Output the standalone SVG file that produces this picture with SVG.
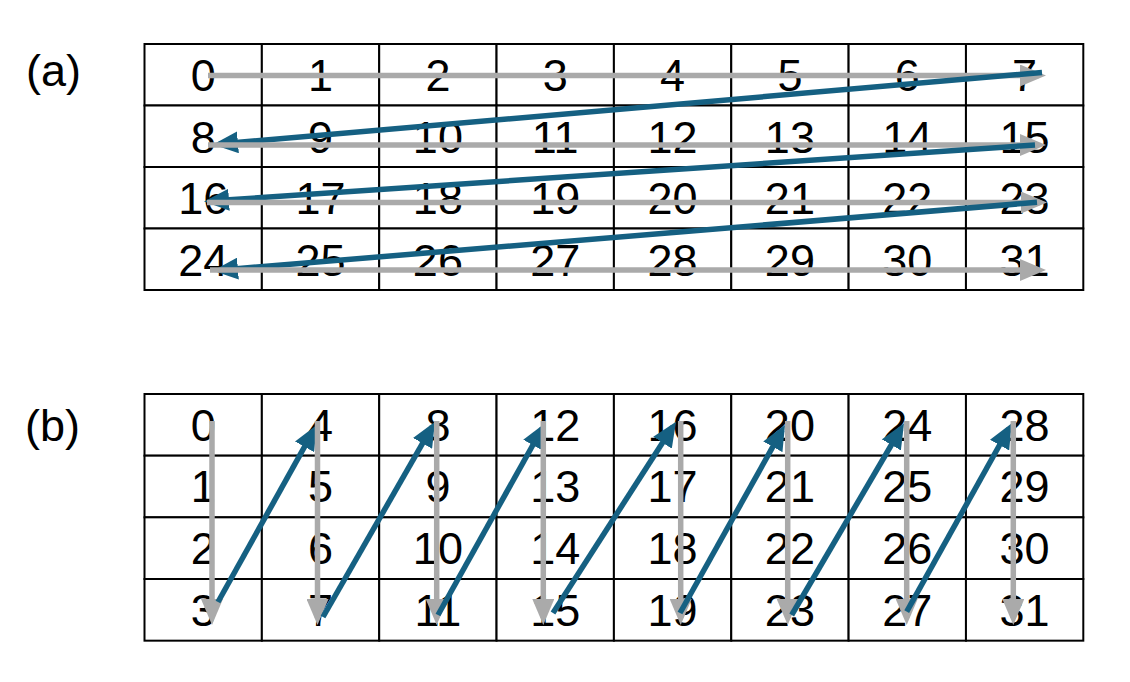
<svg xmlns="http://www.w3.org/2000/svg" width="1130" height="682" viewBox="0 0 1130 682">
<style>
.c rect{fill:#fff;stroke:#000;stroke-width:2}
.c text,.lbl{font-family:"Liberation Sans",Arial,sans-serif;font-size:45px;fill:#000}
.c text{text-anchor:middle}
.g{stroke:#AAAAAA;stroke-width:5.5;fill:none;marker-end:url(#ag)}
.b{stroke:#156082;stroke-width:5.5;fill:none;marker-end:url(#ab)}
</style>
<defs>
<marker id="ag" markerUnits="userSpaceOnUse" markerWidth="26" markerHeight="22" refX="19" refY="11" orient="auto"><path d="M0,0 L26,11 L0,22 Z" fill="#AAAAAA"/></marker>
<marker id="ab" markerUnits="userSpaceOnUse" markerWidth="25" markerHeight="22" refX="19" refY="11" orient="auto"><path d="M0,0 L25,11 L0,22 Z" fill="#156082"/></marker>
</defs>
<rect width="1130" height="682" fill="#fff"/>
<text class="lbl" x="26" y="86">(a)</text>
<text class="lbl" x="25" y="441">(b)</text>
<g id="gridA" class="c">
<g id="a0"><rect x="144.5" y="44" width="117.35" height="61.5"/><text x="203.2" y="91">0</text></g>
<g id="a1"><rect x="261.85" y="44" width="117.35" height="61.5"/><text x="320.5" y="91">1</text></g>
<g id="a2"><rect x="379.2" y="44" width="117.35" height="61.5"/><text x="437.9" y="91">2</text></g>
<g id="a3"><rect x="496.55" y="44" width="117.35" height="61.5"/><text x="555.2" y="91">3</text></g>
<g id="a4"><rect x="613.9" y="44" width="117.35" height="61.5"/><text x="672.6" y="91">4</text></g>
<g id="a5"><rect x="731.25" y="44" width="117.35" height="61.5"/><text x="789.9" y="91">5</text></g>
<g id="a6"><rect x="848.6" y="44" width="117.35" height="61.5"/><text x="907.3" y="91">6</text></g>
<g id="a7"><rect x="965.95" y="44" width="117.35" height="61.5"/><text x="1024.6" y="91">7</text></g>
<g id="a8"><rect x="144.5" y="105.5" width="117.35" height="61.5"/><text x="203.2" y="152.5">8</text></g>
<g id="a9"><rect x="261.85" y="105.5" width="117.35" height="61.5"/><text x="320.5" y="152.5">9</text></g>
<g id="a10"><rect x="379.2" y="105.5" width="117.35" height="61.5"/><text x="437.9" y="152.5">10</text></g>
<g id="a11"><rect x="496.55" y="105.5" width="117.35" height="61.5"/><text x="555.2" y="152.5">11</text></g>
<g id="a12"><rect x="613.9" y="105.5" width="117.35" height="61.5"/><text x="672.6" y="152.5">12</text></g>
<g id="a13"><rect x="731.25" y="105.5" width="117.35" height="61.5"/><text x="789.9" y="152.5">13</text></g>
<g id="a14"><rect x="848.6" y="105.5" width="117.35" height="61.5"/><text x="907.3" y="152.5">14</text></g>
<g id="a15"><rect x="965.95" y="105.5" width="117.35" height="61.5"/><text x="1024.6" y="152.5">15</text></g>
<g id="a16"><rect x="144.5" y="167" width="117.35" height="61.5"/><text x="203.2" y="214">16</text></g>
<g id="a17"><rect x="261.85" y="167" width="117.35" height="61.5"/><text x="320.5" y="214">17</text></g>
<g id="a18"><rect x="379.2" y="167" width="117.35" height="61.5"/><text x="437.9" y="214">18</text></g>
<g id="a19"><rect x="496.55" y="167" width="117.35" height="61.5"/><text x="555.2" y="214">19</text></g>
<g id="a20"><rect x="613.9" y="167" width="117.35" height="61.5"/><text x="672.6" y="214">20</text></g>
<g id="a21"><rect x="731.25" y="167" width="117.35" height="61.5"/><text x="789.9" y="214">21</text></g>
<g id="a22"><rect x="848.6" y="167" width="117.35" height="61.5"/><text x="907.3" y="214">22</text></g>
<g id="a23"><rect x="965.95" y="167" width="117.35" height="61.5"/><text x="1024.6" y="214">23</text></g>
<g id="a24"><rect x="144.5" y="228.5" width="117.35" height="61.5"/><text x="203.2" y="275.5">24</text></g>
<g id="a25"><rect x="261.85" y="228.5" width="117.35" height="61.5"/><text x="320.5" y="275.5">25</text></g>
<g id="a26"><rect x="379.2" y="228.5" width="117.35" height="61.5"/><text x="437.9" y="275.5">26</text></g>
<g id="a27"><rect x="496.55" y="228.5" width="117.35" height="61.5"/><text x="555.2" y="275.5">27</text></g>
<g id="a28"><rect x="613.9" y="228.5" width="117.35" height="61.5"/><text x="672.6" y="275.5">28</text></g>
<g id="a29"><rect x="731.25" y="228.5" width="117.35" height="61.5"/><text x="789.9" y="275.5">29</text></g>
<g id="a30"><rect x="848.6" y="228.5" width="117.35" height="61.5"/><text x="907.3" y="275.5">30</text></g>
<g id="a31"><rect x="965.95" y="228.5" width="117.35" height="61.5"/><text x="1024.6" y="275.5">31</text></g>
</g>
<g id="gridB" class="c">
<g id="b0"><rect x="144.5" y="394" width="117.35" height="61.67"/><text x="203.2" y="440.5">0</text></g>
<g id="b4"><rect x="261.85" y="394" width="117.35" height="61.67"/><text x="320.5" y="440.5">4</text></g>
<g id="b8"><rect x="379.2" y="394" width="117.35" height="61.67"/><text x="437.9" y="440.5">8</text></g>
<g id="b12"><rect x="496.55" y="394" width="117.35" height="61.67"/><text x="555.2" y="440.5">12</text></g>
<g id="b16"><rect x="613.9" y="394" width="117.35" height="61.67"/><text x="672.6" y="440.5">16</text></g>
<g id="b20"><rect x="731.25" y="394" width="117.35" height="61.67"/><text x="789.9" y="440.5">20</text></g>
<g id="b24"><rect x="848.6" y="394" width="117.35" height="61.67"/><text x="907.3" y="440.5">24</text></g>
<g id="b28"><rect x="965.95" y="394" width="117.35" height="61.67"/><text x="1024.6" y="440.5">28</text></g>
<g id="b1"><rect x="144.5" y="455.67" width="117.35" height="61.67"/><text x="203.2" y="502.2">1</text></g>
<g id="b5"><rect x="261.85" y="455.67" width="117.35" height="61.67"/><text x="320.5" y="502.2">5</text></g>
<g id="b9"><rect x="379.2" y="455.67" width="117.35" height="61.67"/><text x="437.9" y="502.2">9</text></g>
<g id="b13"><rect x="496.55" y="455.67" width="117.35" height="61.67"/><text x="555.2" y="502.2">13</text></g>
<g id="b17"><rect x="613.9" y="455.67" width="117.35" height="61.67"/><text x="672.6" y="502.2">17</text></g>
<g id="b21"><rect x="731.25" y="455.67" width="117.35" height="61.67"/><text x="789.9" y="502.2">21</text></g>
<g id="b25"><rect x="848.6" y="455.67" width="117.35" height="61.67"/><text x="907.3" y="502.2">25</text></g>
<g id="b29"><rect x="965.95" y="455.67" width="117.35" height="61.67"/><text x="1024.6" y="502.2">29</text></g>
<g id="b2"><rect x="144.5" y="517.33" width="117.35" height="61.67"/><text x="203.2" y="563.8">2</text></g>
<g id="b6"><rect x="261.85" y="517.33" width="117.35" height="61.67"/><text x="320.5" y="563.8">6</text></g>
<g id="b10"><rect x="379.2" y="517.33" width="117.35" height="61.67"/><text x="437.9" y="563.8">10</text></g>
<g id="b14"><rect x="496.55" y="517.33" width="117.35" height="61.67"/><text x="555.2" y="563.8">14</text></g>
<g id="b18"><rect x="613.9" y="517.33" width="117.35" height="61.67"/><text x="672.6" y="563.8">18</text></g>
<g id="b22"><rect x="731.25" y="517.33" width="117.35" height="61.67"/><text x="789.9" y="563.8">22</text></g>
<g id="b26"><rect x="848.6" y="517.33" width="117.35" height="61.67"/><text x="907.3" y="563.8">26</text></g>
<g id="b30"><rect x="965.95" y="517.33" width="117.35" height="61.67"/><text x="1024.6" y="563.8">30</text></g>
<g id="b3"><rect x="144.5" y="579" width="117.35" height="61.67"/><text x="203.2" y="625.5">3</text></g>
<g id="b7"><rect x="261.85" y="579" width="117.35" height="61.67"/><text x="320.5" y="625.5">7</text></g>
<g id="b11"><rect x="379.2" y="579" width="117.35" height="61.67"/><text x="437.9" y="625.5">11</text></g>
<g id="b15"><rect x="496.55" y="579" width="117.35" height="61.67"/><text x="555.2" y="625.5">15</text></g>
<g id="b19"><rect x="613.9" y="579" width="117.35" height="61.67"/><text x="672.6" y="625.5">19</text></g>
<g id="b23"><rect x="731.25" y="579" width="117.35" height="61.67"/><text x="789.9" y="625.5">23</text></g>
<g id="b27"><rect x="848.6" y="579" width="117.35" height="61.67"/><text x="907.3" y="625.5">27</text></g>
<g id="b31"><rect x="965.95" y="579" width="117.35" height="61.67"/><text x="1024.6" y="625.5">31</text></g>
</g>
<g id="connectors">
<path class="g" d="M208,75.5 H1039"/>
<path class="b" d="M1042,72.5 L219,144"/>
<path class="g" d="M208,145 H1039"/>
<path class="b" d="M1035,145 L210,201.1"/>
<path class="g" d="M207,202.5 H1040"/>
<path class="b" d="M1037,202.3 L219,270.2"/>
<path class="g" d="M210,270 H1039"/>

<path class="g" d="M212,421 V618"/>
<path class="b" d="M218,602 L313.8,430.2"/>
<path class="g" d="M317.5,421 V618"/>
<path class="b" d="M323,617 L432,426.9"/>
<path class="g" d="M436.7,421 V618"/>
<path class="b" d="M438,615 L542.1,428.5"/>
<path class="g" d="M543.3,421 V618"/>
<path class="b" d="M553,613 L672.8,426.7"/>
<path class="g" d="M680.7,421 V618"/>
<path class="b" d="M680,613 L782.1,430.2"/>
<path class="g" d="M787.7,421 V618"/>
<path class="b" d="M791.7,615 L901,428.5"/>
<path class="g" d="M906.7,421 V618"/>
<path class="b" d="M906.7,611.7 L1008.8,428.5"/>
<path class="g" d="M1013.3,421 V618"/>
</g>
</svg>
